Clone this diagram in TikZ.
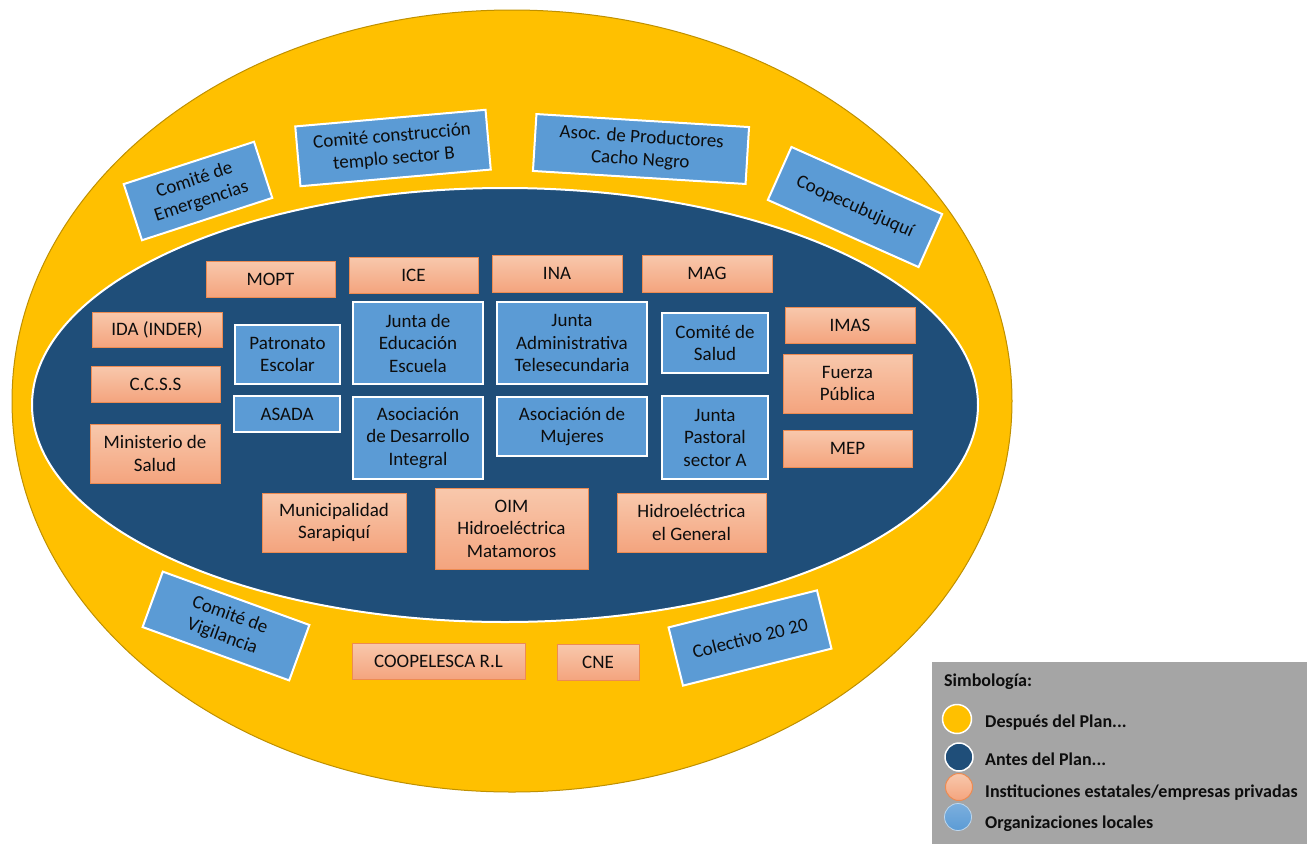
\documentclass[tikz,border=0pt]{standalone}
\usepackage{fontspec}
\setmainfont{Carlito}
\definecolor{outery}{HTML}{FFC000}
\definecolor{outeryb}{HTML}{BF9000}
\definecolor{innerb}{HTML}{1F4E79}
\definecolor{locblue}{HTML}{5B9BD5}
\definecolor{saltop}{HTML}{F8C8AC}
\definecolor{salbot}{HTML}{F4A47E}
\definecolor{salborder}{HTML}{ED8B52}
\definecolor{leggray}{HTML}{A5A5A5}
\definecolor{txt}{HTML}{0D0D0D}
\begin{document}
\begin{tikzpicture}[x=1pt,y=-1pt,
  bx/.style 2 args={minimum width=#1pt, minimum height=#2pt},
  sal/.style={draw=salborder, line width=1pt, top color=saltop, bottom color=salbot,
    inner sep=0pt, align=center, text=txt, font=\fontsize{19}{22.5}\selectfont},
  loc/.style={draw=white, line width=2pt, fill=locblue,
    inner sep=0pt, align=center, text=txt, font=\fontsize{19}{22.5}\selectfont},
  legtxt/.style={anchor=west, inner sep=0pt, text=txt, font=\fontsize{18}{21}\selectfont\bfseries},
  legdot/.style={circle, inner sep=0pt, minimum size=#1pt}
]
\useasboundingbox (0,0) rectangle (1310,844);

% ellipses
\path[fill=outery, draw=outeryb, line width=1pt] (512,401) ellipse [x radius=500pt, y radius=391pt];
\path[fill=innerb, draw=white, line width=2pt] (505,405) ellipse [x radius=473pt, y radius=217pt];

% outer ring: local organisations (rotated)
\node[loc, bx={137}{59}, rotate=18] (emerg) at (198,191) {Comité de\\Emergencias};
\node[loc, bx={191}{60}, rotate=5] (templo) at (393,148) {Comité construcción\\templo sector B};
\node[loc, bx={213}{57}, rotate=-3.5] (asocprod) at (641,149) {Asoc. de Productores\\Cacho Negro};
\node[loc, bx={165}{58}, rotate=-24] (coope) at (855,207) {Coopecubujuquí};
\node[loc, bx={156}{59}, rotate=-20] (vigil) at (226,626) {Comité de\\Vigilancia};
\node[loc, bx={153}{60}, rotate=14] (colect) at (750,638) {Colectivo 20 20};

% outer ring: institutions
\node[sal, bx={173}{36}] (coopel) at (438.5,661) {COOPELESCA R.L};
\node[sal, bx={82}{36}] (cne) at (598,662) {CNE};

% inner: institutions
\node[sal, bx={129}{36}] (mopt) at (270.5,279) {MOPT};
\node[sal, bx={129}{36}] (ice) at (413.5,275) {ICE};
\node[sal, bx={130}{37}] (ina) at (557,273.5) {INA};
\node[sal, bx={130}{37}] (mag) at (707,273.5) {MAG};
\node[sal, bx={130}{35}] (ida) at (157,329.5) {IDA (INDER)};
\node[sal, bx={129}{36}] (ccss) at (155.5,384) {C.C.S.S};
\node[sal, bx={130}{59}] (minsalud) at (155,453.5) {Ministerio de\\Salud};
\node[sal, bx={130}{36}] (imas) at (850,325) {IMAS};
\node[sal, bx={129}{59}] (fuerza) at (847.5,383.5) {Fuerza\\Pública};
\node[sal, bx={129}{37}] (mep) at (847.5,448.5) {MEP};
\node[sal, bx={144}{59}] (muni) at (334,522.5) {Municipalidad\\Sarapiquí};
\node[sal, bx={153}{81}] (oim) at (511.5,528.5) {OIM\\Hidroeléctrica\\Matamoros};
\node[sal, bx={149}{59}] (hidrogen) at (691.5,522.5) {Hidroeléctrica\\el General};

% inner: local organisations
\node[loc, bx={105}{59}] (patron) at (287.5,354.5) {Patronato\\Escolar};
\node[loc, bx={106}{36}] (asada) at (287,414) {ASADA};
\node[loc, bx={130}{82}] (juntaedu) at (418,343) {Junta de\\Educación\\Escuela};
\node[loc, bx={130}{82}] (adi) at (418,438) {Asociación\\de Desarrollo\\Integral};
\node[loc, bx={150}{82}] (juntaadm) at (572,343) {Junta\\Administrativa\\Telesecundaria};
\node[loc, bx={150}{59}] (mujeres) at (572,426.5) {Asociación de\\Mujeres};
\node[loc, bx={106}{60}] (comsalud) at (715,343) {Comité de\\Salud};
\node[loc, bx={106}{83}] (pastoral) at (715,437.5) {Junta\\Pastoral\\sector A};

% legend
\path[fill=leggray] (932,662) rectangle (1307,844);
\node[legtxt] (legtitle) at (944,682) {Simbología:};
\node[legdot=29, fill=outery, draw=white, line width=1.5pt] (dot1) at (957,719) {};
\node[legdot=28, fill=innerb, draw=white, line width=1.5pt] (dot2) at (959,757) {};
\node[legdot=27, top color=saltop, bottom color=salbot, draw=salborder, line width=1pt] (dot3) at (959,787) {};
\node[legdot=27, top color=locblue!80!white, bottom color=locblue, draw=locblue!40!white, line width=0.8pt] (dot4) at (958,817) {};
\node[legtxt] (leg1) at (985,723) {Después del Plan...};
\node[legtxt] (leg2) at (985,759) {Antes del Plan...};
\node[legtxt] (leg3) at (985,793) {Instituciones estatales/empresas privadas};
\node[legtxt] (leg4) at (985,824) {Organizaciones locales};
\end{tikzpicture}
\end{document}
